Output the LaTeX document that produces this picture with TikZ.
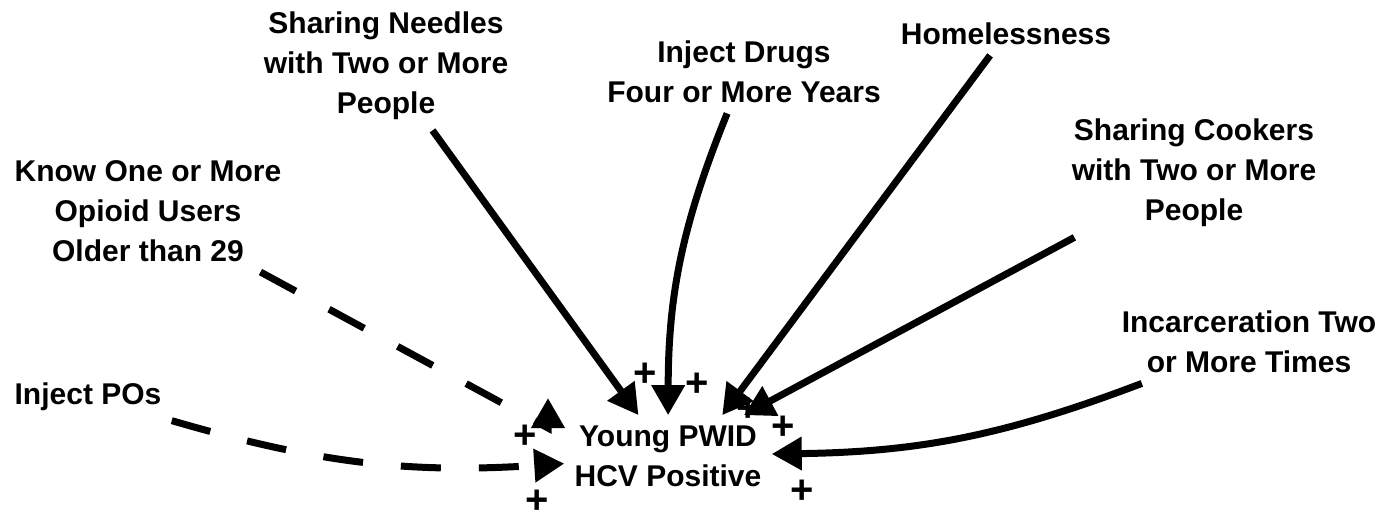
\documentclass[tikz,border=0pt]{standalone}
\usepackage{fontspec}
\setmainfont{Liberation Sans}
\usetikzlibrary{arrows.meta}

\tikzset{
  var/.style={align=center, inner sep=5pt, font=\bfseries\fontsize{15}{20}\selectfont},
  sign/.style={inner sep=0pt, font=\bfseries\fontsize{20}{22}\selectfont},
  link/.style={line width=3.5pt, -{Triangle[length=15pt,width=16pt]}},
  dlink/.style={link, dash pattern=on 20pt off 19pt},
}

\begin{document}
\begin{tikzpicture}[x=0.5pt,y=-0.5pt]
	\useasboundingbox[fill=white] (0,0) rectangle (1392,514);

	% the variables
	\node[var] (needles) at (386,66) {Sharing Needles\\with Two or More\\People};
	\node[var] (drugs) at (744,72) {Inject Drugs\\Four or More Years};
	\node[var] (homeless) at (1006,34) {Homelessness};
	\node[var] (cookers) at (1194,173) {Sharing Cookers\\with Two or More\\People};
	\node[var] (knowone) at (148,211) {Know One or More\\Opioid Users\\Older than 29};
	\node[var] (incarc) at (1249,342) {Incarceration Two\\or More Times};
	\node[var] (injectpos) at (88,397) {Inject POs};
	\node[var] (young) at (668,456) {Young PWID\\HCV Positive};

	% polarity signs
	\foreach \px/\py [count=\i] in {645/375, 697/385, 748/410, 783/428, 802/492, 525/437, 537/502}
		\node[sign] (plus\i) at (\px,\py) {+};

	% solid links
	\draw[link] (needles) -- (young);
	\draw[link] (drugs) to[bend right=11] (young);
	\draw[link] (homeless) -- (young.37);
	\draw[link] (cookers) -- (young);
	\draw[link] (incarc) to[bend left=10] (young);

	% dashed links
	\coordinate (kbase) at (548,428);
	\coordinate (ktip) at (548,398);
	\draw[dlink] (knowone) -- (kbase) -- (ktip);
	\draw[dlink] (injectpos) to[bend right=10] (young);
\end{tikzpicture}
\end{document}
